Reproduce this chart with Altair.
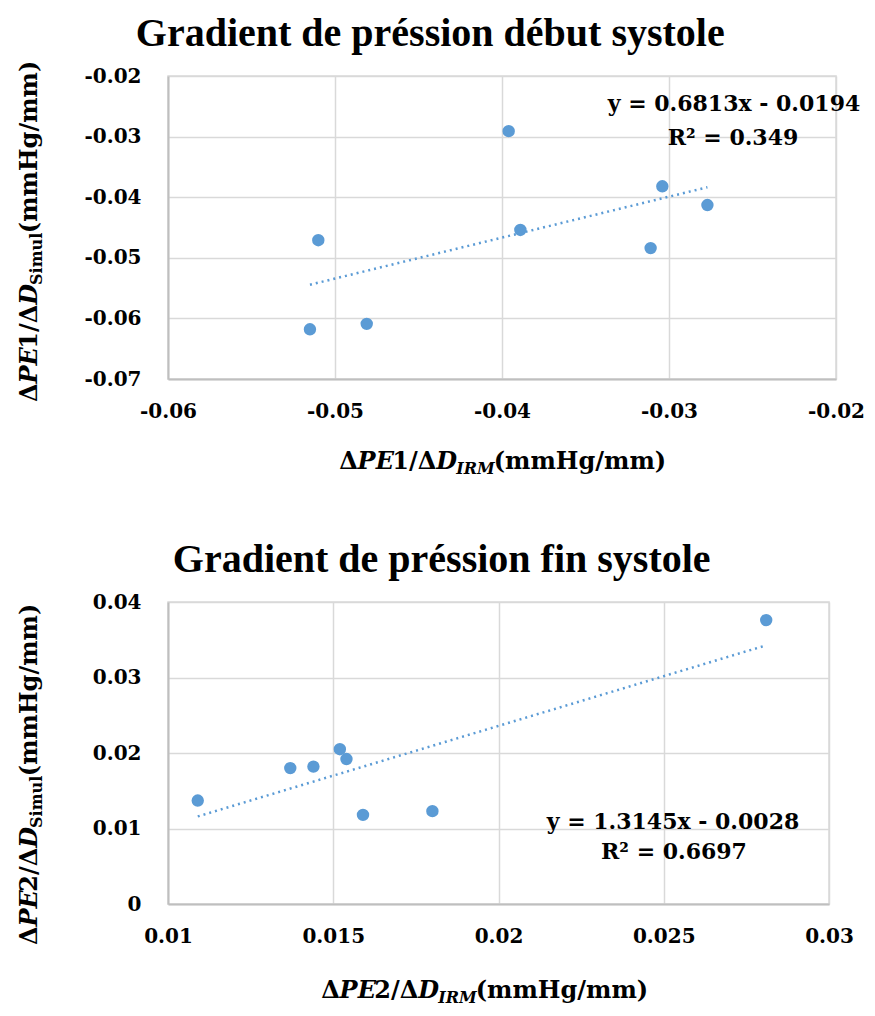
import altair as alt
import pandas as pd

# ---------------- data ----------------
x_debut = [-0.0510, -0.0515, -0.0481, -0.0396, -0.0389, -0.0304, -0.0277, -0.0311]
y_debut = [-0.0471, -0.0618, -0.0609, -0.0291, -0.0454, -0.0382, -0.0413, -0.0484]
x_fin = [0.0109, 0.0137, 0.0144, 0.0152, 0.0154, 0.0159, 0.0180, 0.0281]
y_fin = [0.0137, 0.0180, 0.0182, 0.0205, 0.0192, 0.0118, 0.0123, 0.0376]

titles = ["Gradient de préssion début systole", "Gradient de préssion fin systole"]
x_ticks_debut = [-0.06, -0.05, -0.04, -0.03, -0.02]
y_ticks_debut = [-0.07, -0.06, -0.05, -0.04, -0.03, -0.02]
x_ticks_fin = [0.01, 0.015, 0.02, 0.025, 0.03]
y_ticks_fin = [0, 0.01, 0.02, 0.03, 0.04]
eq_debut = ["y = 0.6813x - 0.0194", "R² = 0.349"]
eq_fin = ["y = 1.3145x - 0.0028", "R² = 0.6697"]

BLUE = "#5B9BD5"
FONT = "DejaVu Serif"
TFONT = "Liberation Serif"

# approximate advance widths (em) for DejaVu Serif Bold
W = {"Δ": 0.77, "P": 0.733, "E": 0.715, "1": 0.696, "2": 0.696, "/": 0.365,
     "D": 0.83, "I": 0.468, "R": 0.77, "M": 1.1, "(": 0.473, ")": 0.473,
     "m": 1.042, "H": 0.94, "g": 0.716, "S": 0.72, "i": 0.38, "u": 0.712,
     "l": 0.38}


def est(text, size):
    return sum(W.get(c, 0.65) for c in text) * size


one = pd.DataFrame({"k": [0]})


def rich(pieces, cx, cy, vertical=False):
    total = sum(est(t, s) for t, s, it, sh in pieces)
    pos = -total / 2
    layers = []
    for t, s, it, sh in pieces:
        kw = dict(text=t, align="left", baseline="alphabetic", font=FONT,
                  fontSize=s, fontWeight="bold", color="black",
                  fontStyle="italic" if it else "normal")
        if vertical:
            mk = alt.Chart(one).mark_text(angle=270, **kw).encode(
                x=alt.value(cx + sh), y=alt.value(cy - pos))
        else:
            mk = alt.Chart(one).mark_text(**kw).encode(
                x=alt.value(cx + pos), y=alt.value(cy + sh))
        layers.append(mk)
        pos += est(t, s)
    return layers


def axis_pieces(num, sub):
    M, S = 24, 16
    return [("Δ", M, False, 0), ("PE", M, True, 0), (num + "/Δ", M, False, 0),
            ("D", M, True, 0), (sub, S, sub == "IRM", 5), ("(mmHg/mm)", M, False, 0)]


def panel(xs, ys, xt, yt, title, eq, eqpos, num, w, h, xtitle_pos, ytitle_pos,
          dx, toff):
    df = pd.DataFrame({"x": xs, "y": ys})
    xsc = alt.Scale(domain=[xt[0], xt[-1]], nice=False, zero=False)
    ysc = alt.Scale(domain=[yt[0], yt[-1]], nice=False, zero=False)
    xax = alt.Axis(values=xt, labelExpr="toString(datum.value)", title=None,
                   labelPadding=22, grid=True, labelFlush=False)
    yax = alt.Axis(values=yt, labelExpr="toString(datum.value)", title=None,
                   labelPadding=27, grid=True)
    pts = alt.Chart(df).mark_circle(size=154, color=BLUE, opacity=1).encode(
        x=alt.X("x:Q", scale=xsc, axis=xax),
        y=alt.Y("y:Q", scale=ysc, axis=yax))
    trend = alt.Chart(df).transform_regression("x", "y").mark_line(
        color=BLUE, strokeWidth=2.5, strokeDash=[2, 4]).encode(
        x=alt.X("x:Q", scale=xsc), y=alt.Y("y:Q", scale=ysc))
    eqs = [alt.Chart(one).mark_text(text=t, align="center", baseline="middle",
                                    font=FONT, fontSize=22, fontWeight="bold",
                                    color="black").encode(
        x=alt.value(px), y=alt.value(py)) for t, (px, py) in zip(eq, eqpos)]
    xtl = rich(axis_pieces(num, "IRM"), xtitle_pos[0], xtitle_pos[1])
    ytl = rich(axis_pieces(num, "Simul"), ytitle_pos[0], ytitle_pos[1], vertical=True)
    return alt.layer(trend, pts, *eqs, *xtl, *ytl).properties(
        width=w, height=h,
        title=alt.TitleParams(title, font=TFONT, fontSize=40, fontWeight="bold",
                              color="black", anchor="middle", frame="bounds",
                              offset=toff, dx=dx))


top = panel(x_debut, y_debut, x_ticks_debut, y_ticks_debut, titles[0], eq_debut,
            [(566, 28), (565, 62)], "1", 668, 303, (334, 393), (-131, 156), -11, 7)
bottom = panel(x_fin, y_fin, x_ticks_fin, y_ticks_fin, titles[1], eq_fin,
               [(505, 220), (506, 250)], "2", 661, 302, (316, 396), (-131, 173), 6, 12)

chart = alt.vconcat(top, bottom, spacing=61).properties(
    padding={"left": 9, "top": 4, "right": 0, "bottom": 0}).configure_view(
    stroke="#D9D9D9", strokeWidth=1.5).configure_axis(
    gridColor="#D9D9D9", gridWidth=1.5, domainColor="#BFBFBF", domainWidth=2,
    ticks=False, labelFont=FONT, labelFontWeight="bold", labelFontSize=20,
    labelColor="black")

chart.save("out.html", embed_options={"renderer": "svg", "actions": False})
